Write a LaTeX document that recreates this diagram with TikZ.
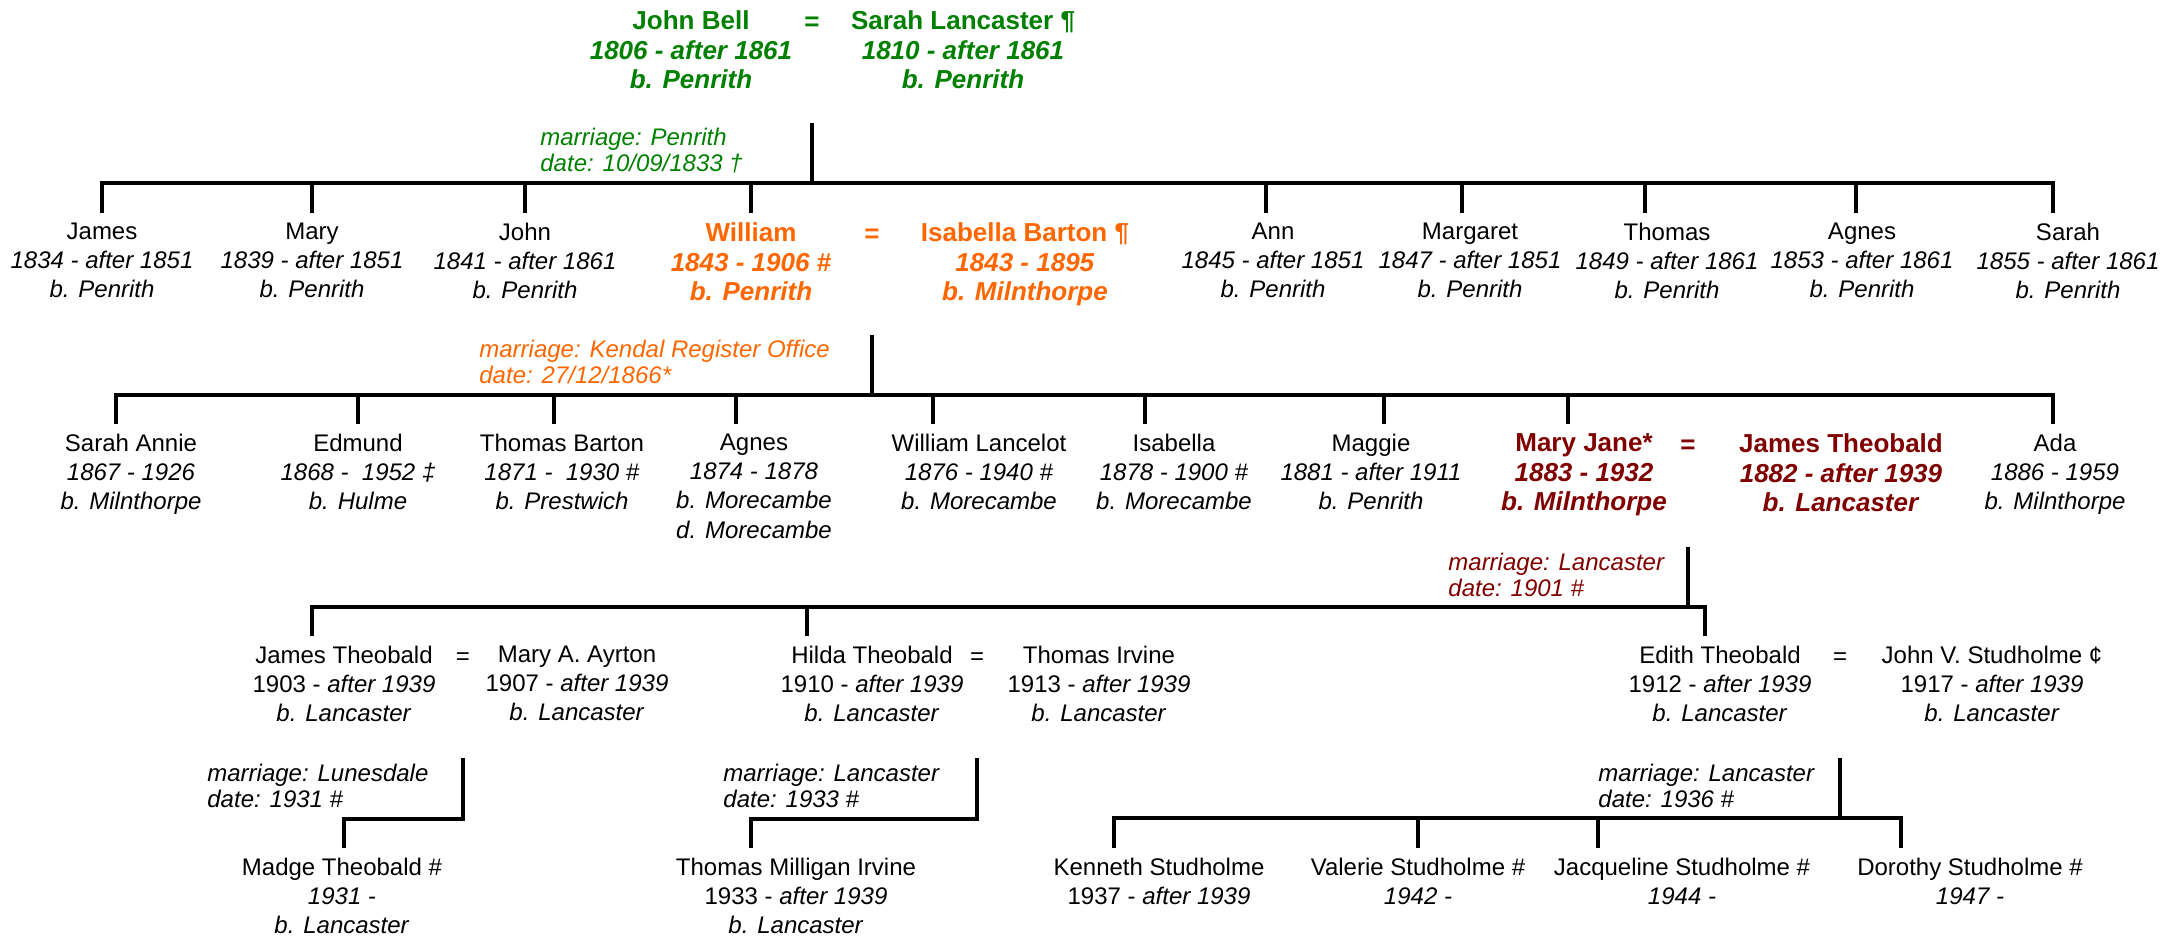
\documentclass[tikz,border=0pt]{standalone}
\usepackage{fontspec}
\setmainfont{Liberation Sans}

\definecolor{bellgreen}{RGB}{0,128,0}
\definecolor{bartonorange}{RGB}{255,102,0}
\definecolor{theobaldred}{RGB}{128,0,0}

\tikzset{
  person/.style={anchor=north, align=center, inner sep=0pt, outer ysep=5pt,
    font=\fontsize{12}{14.6}\selectfont},
  spouse/.style={person, font=\bfseries\fontsize{13}{14.6}\selectfont},
  eqsign/.style={inner sep=0pt, font=\fontsize{12}{14.6}\selectfont},
  boldeq/.style={eqsign, font=\bfseries\fontsize{13}{14.6}\selectfont},
  wedding/.style={anchor=west, align=left, inner sep=0pt,
    font=\itshape\fontsize{12}{13}\selectfont},
  famline/.style={line width=1.8pt},
}

\begin{document}
\begin{tikzpicture}[x=0.5pt, y=-0.5pt]
\useasboundingbox (0,0) rectangle (2175,936);

% John Bell = Sarah Lancaster
\node[spouse, bellgreen] (johnbell) at (691,1) {John Bell\\ \textit{1806 - after 1861}\\ \textit{b. Penrith}};
\node[boldeq, bellgreen] (eq1) at (812,24) {=};
\node[spouse, bellgreen] (sarahl) at (963,1) {Sarah Lancaster ¶\\ \textit{1810 - after 1861}\\ \textit{b. Penrith}};
\node[wedding, bellgreen] (m1) at (540,151) {marriage: Penrith\\ date: 10/09/1833 †};

% their children
\node[person] (james) at (102,213) {James\\ \textit{1834 - after 1851}\\ \textit{b. Penrith}};
\node[person] (mary) at (312,213) {Mary\\ \textit{1839 - after 1851}\\ \textit{b. Penrith}};
\node[person] (john) at (525,213) {John\\ \textit{1841 - after 1861}\\ \textit{b. Penrith}};
\node[spouse, bartonorange] (william) at (751,213) {William\\ \textit{1843 - 1906 \#}\\ \textit{b. Penrith}};
\node[boldeq, bartonorange] (eq2) at (872,236) {=};
\node[spouse, bartonorange] (isabella) at (1025,213) {Isabella Barton ¶\\ \textit{1843 - 1895}\\ \textit{b. Milnthorpe}};
\node[person] (ann) at (1273,213) {Ann\\ \textit{1845 - after 1851}\\ \textit{b. Penrith}};
\node[person] (margaret) at (1470,213) {Margaret\\ \textit{1847 - after 1851}\\ \textit{b. Penrith}};
\node[person] (thomas) at (1667,213) {Thomas\\ \textit{1849 - after 1861}\\ \textit{b. Penrith}};
\node[person] (agnes) at (1862,213) {Agnes\\ \textit{1853 - after 1861}\\ \textit{b. Penrith}};
\node[person] (sarah) at (2068,213) {Sarah\\ \textit{1855 - after 1861}\\ \textit{b. Penrith}};
\node[wedding, bartonorange] (m2) at (479,362) {marriage: Kendal Register Office\\ date: 27/12/1866*};

% William and Isabella's children
\node[person] (sarahannie) at (131,424) {Sarah Annie\\ \textit{1867 - 1926}\\ \textit{b. Milnthorpe}};
\node[person] (edmund) at (358,424) {Edmund\\ \textit{1868 -\ \ 1952 ‡}\\ \textit{b. Hulme}};
\node[person] (thomasb) at (562,424) {Thomas Barton\\ \textit{1871 -\ \ 1930 \#}\\ \textit{b. Prestwich}};
\node[person] (agnes2) at (754,424) {Agnes\\ \textit{1874 - 1878}\\ \textit{b. Morecambe}\\ \textit{d. Morecambe}};
\node[person] (williaml) at (979,424) {William Lancelot\\ \textit{1876 - 1940 \#}\\ \textit{b. Morecambe}};
\node[person] (isabella2) at (1174,424) {Isabella\\ \textit{1878 - 1900 \#}\\ \textit{b. Morecambe}};
\node[person] (maggie) at (1371,424) {Maggie\\ \textit{1881 - after 1911}\\ \textit{b. Penrith}};
\node[spouse, theobaldred] (maryjane) at (1584,424) {Mary Jane*\\ \textit{1883 - 1932}\\ \textit{b. Milnthorpe}};
\node[boldeq, theobaldred] (eq3) at (1688,447) {=};
\node[spouse, theobaldred] (jamestheo) at (1841,424) {James Theobald\\ \textit{1882 - after 1939}\\ \textit{b. Lancaster}};
\node[person] (ada) at (2055,424) {Ada\\ \textit{1886 - 1959}\\ \textit{b. Milnthorpe}};
\node[wedding, theobaldred] (m3) at (1448,575) {marriage: Lancaster\\ date: 1901 \#};

% Mary Jane and James Theobald's children
\node[person] (jamest) at (344,636) {James Theobald\\ 1903 - \textit{after 1939}\\ \textit{b. Lancaster}};
\node[eqsign] (eq4a) at (463,659) {=};
\node[person] (marya) at (577,636) {Mary A. Ayrton\\ 1907 - \textit{after 1939}\\ \textit{b. Lancaster}};
\node[person] (hilda) at (872,636) {Hilda Theobald\\ 1910 - \textit{after 1939}\\ \textit{b. Lancaster}};
\node[eqsign] (eq4b) at (977,659) {=};
\node[person] (thomasi) at (1099,636) {Thomas Irvine\\ 1913 - \textit{after 1939}\\ \textit{b. Lancaster}};
\node[person] (edith) at (1720,636) {Edith Theobald\\ 1912 - \textit{after 1939}\\ \textit{b. Lancaster}};
\node[eqsign] (eq4c) at (1840,659) {=};
\node[person] (johnv) at (1992,636) {John V. Studholme ¢\\ 1917 - \textit{after 1939}\\ \textit{b. Lancaster}};
\node[wedding] (m4a) at (207,786) {marriage: Lunesdale\\ date: 1931 \#};
\node[wedding] (m4b) at (723,786) {marriage: Lancaster\\ date: 1933 \#};
\node[wedding] (m4c) at (1598,786) {marriage: Lancaster\\ date: 1936 \#};

% grandchildren
\node[person] (madge) at (342,848) {Madge Theobald \#\\ \textit{1931 -}\\ \textit{b. Lancaster}};
\node[person] (thomasmi) at (796,848) {Thomas Milligan Irvine\\ 1933 - \textit{after 1939}\\ \textit{b. Lancaster}};
\node[person] (kenneth) at (1159,848) {Kenneth Studholme\\ 1937 - \textit{after 1939}};
\node[person] (valerie) at (1418,848) {Valerie Studholme \#\\ \textit{1942 -}};
\node[person] (jacqueline) at (1682,848) {Jacqueline Studholme \#\\ \textit{1944 -}};
\node[person] (dorothy) at (1970,848) {Dorothy Studholme \#\\ \textit{1947 -}};

% drop points above each child
\foreach \n/\dx in {james/0, mary/0, john/0, william/0, ann/-3.5, margaret/-4, thomas/-11, agnes/-3, sarah/-7.5,
    sarahannie/-7.5, edmund/0, thomasb/-4, agnes2/-9, williaml/-23, isabella2/-14.5, maggie/6.5, maryjane/-8, ada/-1,
    jamest/-16, hilda/-32.5, edith/-7.5,
    madge/1, thomasmi/-22.5, kenneth/-22.5, valerie/0, jacqueline/-42, dorothy/-34.5}
  \coordinate (d-\n) at ([xshift=\dx pt]\n.north);

% family lines
\coordinate (wed1) at (812,123);
\coordinate (bar1) at (812,183);
\draw[famline] (wed1) -- (bar1);
\draw[famline] (d-james) |- (bar1) -| (d-sarah);
\foreach \n in {mary, john, william, ann, margaret, thomas, agnes}
  \draw[famline] (d-\n) -- (d-\n |- bar1);

\coordinate (wed2) at (872,335);
\coordinate (bar2) at (872,395);
\draw[famline] (wed2) -- (bar2);
\draw[famline] (d-sarahannie) |- (bar2) -| (d-ada);
\foreach \n in {edmund, thomasb, agnes2, williaml, isabella2, maggie, maryjane}
  \draw[famline] (d-\n) -- (d-\n |- bar2);

\coordinate (wed3) at (1688,547);
\coordinate (bar3) at (1688,607);
\draw[famline] (wed3) -- (bar3);
\draw[famline] (d-jamest) |- (bar3) -| (d-edith);
\draw[famline] (d-hilda) -- (d-hilda |- bar3);

\coordinate (wed4a) at (463,758);
\coordinate (bar4a) at (463,819);
\draw[famline] (wed4a) -- (bar4a) -| (d-madge);

\coordinate (wed4b) at (977,758);
\coordinate (bar4b) at (977,819);
\draw[famline] (wed4b) -- (bar4b) -| (d-thomasmi);

\coordinate (wed4c) at (1840,758);
\coordinate (bar4c) at (1840,818);
\draw[famline] (wed4c) -- (bar4c);
\draw[famline] (d-kenneth) |- (bar4c) -| (d-dorothy);
\foreach \n in {valerie, jacqueline}
  \draw[famline] (d-\n) -- (d-\n |- bar4c);
\end{tikzpicture}
\end{document}
